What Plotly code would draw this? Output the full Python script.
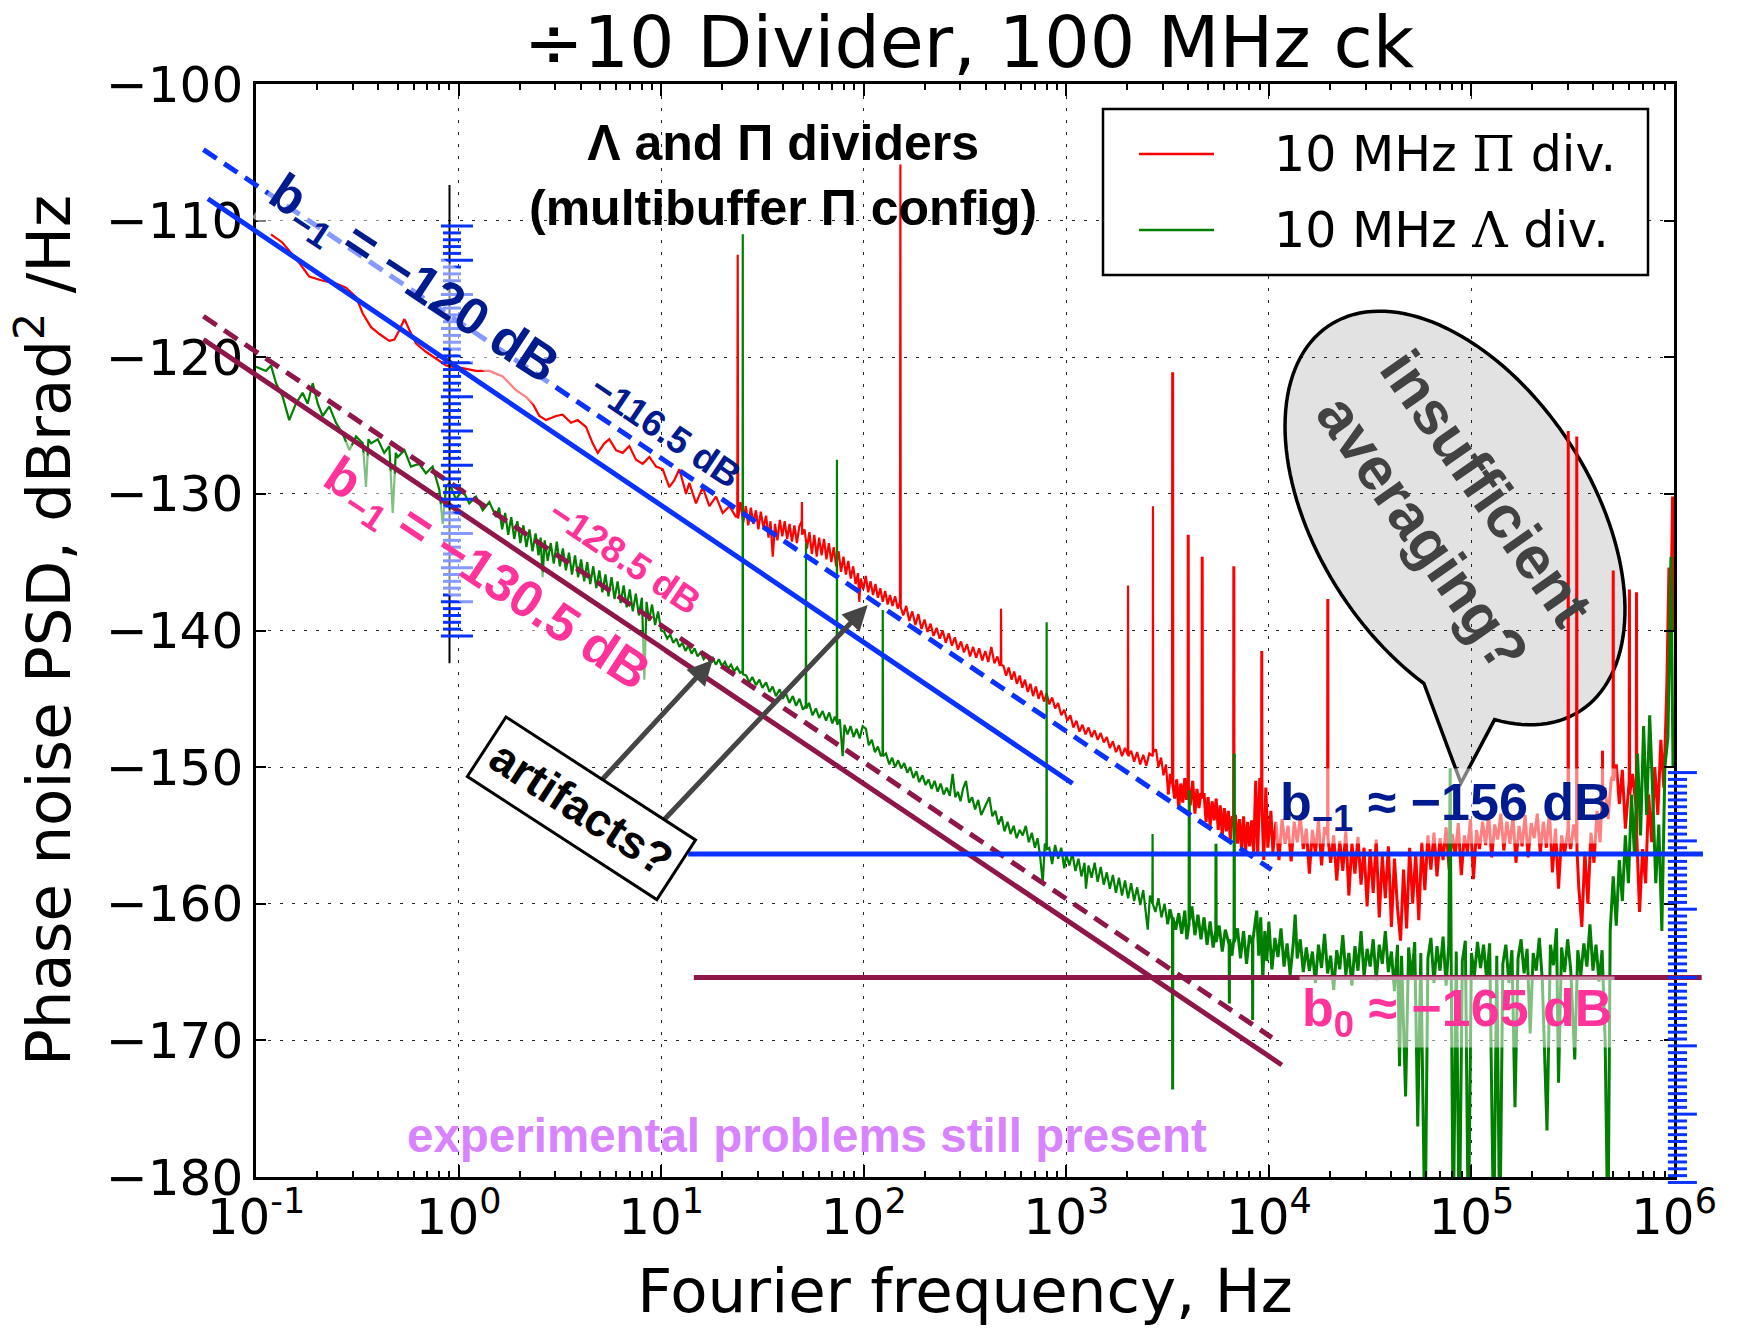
import numpy as np
import plotly.graph_objects as go

# ---------------- figure geometry (pixels) ----------------
W, H = 1743, 1331
PLOT_L, PLOT_R, PLOT_T, PLOT_B = 256, 1674, 84, 1177
X_LOG_RANGE = [-1, 6]          # log10(Hz)
Y_RANGE = [-180, -100]         # dB

# ---------------- axis ticks ----------------
x_tick_exponents = [-1, 0, 1, 2, 3, 4, 5, 6]
x_tick_labels = ["10<sup>-1</sup>", "10<sup>0</sup>", "10<sup>1</sup>", "10<sup>2</sup>",
                 "10<sup>3</sup>", "10<sup>4</sup>", "10<sup>5</sup>", "10<sup>6</sup>"]
y_tick_values = [-180, -170, -160, -150, -140, -130, -120, -110, -100]

# ---------------- measured spectra: (log10 f [Hz], PSD [dB]) ----------------
red_pi_div = [
    (-0.926, -111.0), (-0.87, -111.6), (-0.836, -112.2), (-0.786, -113.1), (-0.737, -114.1),
    (-0.671, -114.4), (-0.605, -114.6), (-0.556, -114.9), (-0.506, -115.6), (-0.473, -116.8),
    (-0.432, -117.8), (-0.391, -118.3), (-0.342, -118.8), (-0.317, -118.7), (-0.292, -118.0),
    (-0.267, -117.2), (-0.243, -118.0), (-0.21, -119.0), (-0.161, -119.6), (-0.111, -120.1),
    (-0.062, -120.6), (-0.029, -120.7), (0.02, -120.8), (0.086, -121.0), (0.152, -121.0),
    (0.218, -121.4), (0.283, -122.4), (0.333, -122.9), (0.366, -123.4), (0.399, -124.3),
    (0.432, -124.6), (0.481, -124.3), (0.514, -124.2), (0.555, -124.8), (0.588, -124.6),
    (0.629, -125.1), (0.662, -126.3), (0.687, -127.0), (0.72, -126.3), (0.744, -126.0),
    (0.777, -126.8), (0.81, -127.0), (0.843, -126.5), (0.876, -127.5), (0.909, -127.8),
    (0.942, -127.3), (0.975, -128.0), (1.008, -128.2), (1.04, -129.5), (1.065, -129.0),
    (1.09, -128.2), (1.123, -130.0), (1.139, -129.2), (1.172, -130.7), (1.205, -129.5),
    (1.238, -130.9), (1.271, -130.2), (1.304, -131.4), (1.337, -130.9), (1.37, -131.7),
    (1.376, -131.5), (1.378, -112.5), (1.380, -131.8),
    (1.392, -130.6), (1.405, -132.1), (1.418, -130.9), (1.43, -132.3), (1.443, -131.0),
    (1.455, -132.2), (1.468, -131.2), (1.48, -132.6), (1.492, -131.3), (1.505, -132.5),
    (1.518, -131.6), (1.53, -133.2), (1.54, -132.0), (1.551, -134.6), (1.562, -132.2),
    (1.574, -133.4), (1.586, -131.9), (1.598, -133.1), (1.61, -132.0), (1.622, -133.3),
    (1.634, -132.2), (1.646, -133.5), (1.658, -132.3), (1.670, -133.6), (1.682, -132.4),
    (1.694, -132.0), (1.695, -130.6), (1.696, -133.0),
    (1.708, -132.6), (1.72, -134.0), (1.732, -132.8), (1.744, -134.4), (1.756, -133.0),
    (1.768, -134.6), (1.78, -133.2), (1.792, -134.5), (1.804, -133.3), (1.816, -134.8),
    (1.828, -133.6), (1.84, -135.0), (1.852, -133.9), (1.864, -135.3), (1.876, -134.2),
    (1.888, -135.7), (1.90, -134.6), (1.912, -135.9), (1.924, -134.9), (1.936, -136.2),
    (1.948, -135.3), (1.96, -136.6), (1.972, -135.8), (1.978, -137.9), (1.986, -136.2),
    (1.998, -137.0), (2.01, -136.0), (2.022, -137.2), (2.034, -136.4), (2.046, -137.4),
    (2.058, -136.6), (2.07, -137.6), (2.082, -136.9), (2.094, -137.9), (2.106, -137.1),
    (2.118, -138.1), (2.13, -137.4), (2.142, -138.2), (2.155, -137.5), (2.168, -138.4),
    (2.179, -137.9), (2.181, -105.9), (2.183, -138.3),
    (2.195, -138.9), (2.21, -138.2), (2.225, -139.3), (2.24, -138.6), (2.255, -139.6),
    (2.27, -138.8), (2.285, -139.9), (2.30, -139.2), (2.315, -140.1), (2.33, -139.5),
    (2.345, -140.4), (2.36, -139.8), (2.375, -140.6), (2.39, -140.0), (2.405, -140.9),
    (2.42, -140.2), (2.435, -141.1), (2.45, -140.5), (2.465, -141.4), (2.48, -140.8),
    (2.495, -141.6), (2.51, -141.0), (2.525, -141.9), (2.54, -141.2), (2.555, -142.0),
    (2.57, -141.3), (2.585, -142.2), (2.60, -141.5), (2.615, -142.3), (2.63, -141.2),
    (2.645, -142.4), (2.66, -141.9), (2.672, -142.6),
    (2.677, -142.3), (2.678, -138.4), (2.679, -142.5),
    (2.69, -142.6), (2.703, -143.3), (2.716, -142.7), (2.73, -143.6), (2.743, -143.0),
    (2.756, -143.9), (2.77, -143.3), (2.783, -144.2), (2.796, -143.6), (2.81, -144.5),
    (2.823, -143.9), (2.836, -144.8), (2.85, -144.1), (2.863, -145.0), (2.876, -144.4),
    (2.89, -145.2), (2.903, -144.6), (2.916, -145.4), (2.93, -144.9), (2.945, -145.7),
    (2.96, -145.3), (2.975, -146.2), (2.99, -145.8), (3.005, -146.6), (3.02, -146.2),
    (3.035, -147.1), (3.05, -146.6), (3.065, -147.4), (3.08, -146.9), (3.095, -147.6),
    (3.11, -147.1), (3.125, -147.8), (3.14, -147.3), (3.155, -148.0), (3.17, -147.5),
    (3.185, -148.2), (3.20, -147.8), (3.215, -148.6), (3.23, -148.1), (3.245, -148.9),
    (3.26, -148.4), (3.275, -149.2), (3.29, -148.6),
    (3.304, -149.1), (3.305, -136.7), (3.306, -149.2),
    (3.32, -148.8), (3.335, -149.6), (3.35, -148.9), (3.365, -149.8), (3.38, -149.1),
    (3.395, -149.9), (3.41, -149.0),
    (3.427, -149.2), (3.428, -130.9), (3.429, -148.9),
    (3.443, -148.7), (3.455, -150.0), (3.468, -149.3), (3.48, -150.6), (3.492, -149.8),
    (3.503, -152.0), (3.514, -150.5),
    (3.524, -151.2), (3.525, -121.1), (3.526, -151.3),
    (3.535, -152.3), (3.545, -150.9), (3.555, -153.0), (3.565, -151.2), (3.575, -152.6),
    (3.585, -150.8), (3.593, -152.4),
    (3.601, -151.3), (3.602, -133.0), (3.603, -151.4),
    (3.612, -152.8), (3.624, -151.0), (3.635, -153.4), (3.645, -151.6), (3.655, -153.0),
    (3.663, -152.0),
    (3.670, -152.0), (3.671, -134.6), (3.672, -152.3),
    (3.68, -151.9), (3.69, -154.0), (3.70, -152.2), (3.71, -154.3), (3.72, -152.5),
    (3.73, -153.9), (3.74, -152.3), (3.75, -154.6), (3.76, -152.8), (3.77, -155.0),
    (3.78, -153.0), (3.79, -154.7), (3.80, -153.2), (3.81, -155.3), (3.819, -153.6),
    (3.826, -153.8), (3.827, -135.3), (3.828, -154.0),
    (3.835, -153.5), (3.845, -155.6), (3.855, -153.8), (3.865, -156.0), (3.875, -153.6),
    (3.885, -156.2), (3.895, -154.0), (3.905, -155.8), (3.915, -153.9), (3.925, -156.3),
    (3.935, -151.0), (3.945, -156.5), (3.955, -150.8),
    (3.964, -153.0), (3.965, -141.5), (3.966, -153.2),
    (3.975, -156.8), (3.985, -151.5), (3.995, -155.9), (4.01, -153.2), (4.02, -156.2),
    (4.035, -154.0), (4.05, -156.8), (4.065, -153.8), (4.08, -155.6), (4.095, -154.3),
    (4.11, -156.9), (4.125, -154.0), (4.14, -155.5), (4.155, -153.6), (4.17, -156.0),
    (4.185, -154.5), (4.20, -157.8), (4.215, -154.6), (4.23, -156.3), (4.245, -153.9),
    (4.26, -157.2), (4.275, -154.4),
    (4.290, -155.0), (4.291, -137.7), (4.292, -155.2),
    (4.305, -157.0), (4.32, -155.0), (4.335, -158.3), (4.35, -155.4), (4.365, -157.6),
    (4.38, -154.7), (4.395, -159.4), (4.41, -155.6), (4.425, -157.8), (4.44, -155.1),
    (4.455, -158.6), (4.47, -155.9), (4.485, -160.2), (4.50, -156.0), (4.515, -159.2),
    (4.53, -155.3), (4.545, -161.0), (4.56, -156.5), (4.575, -159.6), (4.59, -155.8),
    (4.605, -161.7), (4.62, -156.7), (4.635, -160.3), (4.65, -162.7), (4.665, -157.5),
    (4.68, -161.8), (4.695, -155.9), (4.71, -160.0), (4.725, -156.3), (4.74, -161.2),
    (4.755, -155.5), (4.77, -159.0), (4.785, -155.0), (4.80, -157.5), (4.815, -154.8),
    (4.83, -158.0), (4.845, -155.2), (4.86, -156.8), (4.875, -154.4), (4.89, -157.5),
    (4.905, -154.9), (4.92, -156.4), (4.935, -154.1), (4.95, -157.9), (4.965, -155.0),
    (4.98, -156.2), (4.995, -153.8), (5.01, -158.2), (5.025, -154.6), (5.04, -156.0),
    (5.055, -154.0), (5.07, -155.7), (5.085, -153.5), (5.10, -156.6), (5.115, -154.2),
    (5.13, -155.3), (5.145, -153.4), (5.16, -156.1), (5.175, -154.0), (5.19, -155.6),
    (5.205, -153.6), (5.22, -157.0), (5.235, -154.3), (5.25, -155.8), (5.265, -153.5),
    (5.28, -156.6), (5.295, -154.1), (5.31, -155.2), (5.325, -153.4), (5.34, -156.3),
    (5.355, -154.0), (5.37, -155.9), (5.385, -153.2), (5.40, -157.7), (5.415, -154.5),
    (5.43, -158.9), (5.445, -155.0), (5.46, -156.3),
    (5.477, -154.5), (5.478, -125.4), (5.479, -155.0),
    (5.49, -156.0), (5.505, -154.2),
    (5.519, -155.5), (5.52, -125.8), (5.521, -156.0),
    (5.53, -158.8), (5.545, -161.7), (5.56, -156.2), (5.575, -160.0), (5.59, -154.8),
    (5.605, -157.0), (5.62, -153.2), (5.635, -155.5),
    (5.646, -152.0), (5.647, -148.8), (5.648, -152.3),
    (5.66, -151.5), (5.675, -153.8), (5.69, -150.9),
    (5.699, -150.6), (5.70, -135.6), (5.701, -151.0),
    (5.715, -149.8), (5.73, -152.7), (5.745, -150.2), (5.76, -154.5),
    (5.779, -151.0), (5.78, -137.0), (5.781, -152.0),
    (5.795, -150.5),
    (5.814, -153.0), (5.815, -137.2), (5.816, -155.0),
    (5.83, -160.6), (5.845, -156.0), (5.86, -158.5), (5.875, -152.0), (5.89, -155.5),
    (5.905, -150.0), (5.92, -153.5), (5.935, -148.0), (5.95, -151.5), (5.965, -143.8),
    (5.975, -135.4), (5.985, -139.0), (5.993, -130.2), (5.998, -140.0),
]

green_lambda_div = [
    (-1.0, -120.7), (-0.951, -121.0), (-0.926, -120.6), (-0.901, -121.9), (-0.868, -122.9),
    (-0.836, -124.6), (-0.803, -123.4), (-0.77, -122.6), (-0.745, -123.4), (-0.72, -121.9),
    (-0.695, -123.4), (-0.671, -124.3), (-0.638, -123.6), (-0.605, -124.8), (-0.572, -125.6),
    (-0.539, -126.8), (-0.506, -125.8), (-0.473, -126.3), (-0.457, -129.5), (-0.445, -126.0),
    (-0.432, -126.3), (-0.399, -126.0), (-0.367, -127.0), (-0.342, -126.5), (-0.325, -131.4),
    (-0.31, -127.0), (-0.3, -127.3), (-0.267, -126.8), (-0.235, -128.0), (-0.194, -127.8),
    (-0.161, -128.5), (-0.128, -128.0), (-0.095, -129.7), (-0.078, -132.2), (-0.062, -129.5),
    (-0.045, -129.2), (-0.013, -130.4), (0.02, -129.7), (0.053, -130.7), (0.086, -130.2),
    (0.119, -131.2), (0.152, -130.6), (0.185, -131.7),
    (0.20, -131.0), (0.215, -132.6), (0.23, -131.4), (0.245, -133.0), (0.26, -131.7),
    (0.275, -133.3), (0.29, -132.0), (0.305, -133.6), (0.32, -132.3), (0.335, -133.9),
    (0.35, -132.6), (0.365, -134.2), (0.38, -132.9), (0.395, -134.5), (0.405, -133.2),
    (0.415, -136.1), (0.425, -133.4), (0.44, -134.9), (0.455, -133.6), (0.47, -135.1),
    (0.485, -133.5), (0.50, -135.3), (0.515, -134.0), (0.53, -135.6), (0.545, -134.3),
    (0.56, -135.9), (0.575, -134.5), (0.59, -136.1), (0.605, -134.8), (0.62, -136.4),
    (0.635, -135.0), (0.65, -136.6), (0.665, -135.3), (0.68, -136.9), (0.695, -135.6),
    (0.71, -137.2), (0.725, -135.9), (0.74, -137.5), (0.755, -136.1), (0.77, -137.7),
    (0.785, -136.4), (0.80, -138.0), (0.815, -136.7), (0.83, -138.3), (0.845, -137.0),
    (0.86, -138.6), (0.875, -137.3), (0.89, -138.9), (0.905, -137.6), (0.917, -143.6),
    (0.928, -137.9), (0.94, -139.3), (0.955, -138.1), (0.97, -139.6), (0.985, -138.6),
    (1.0, -140.0), (1.015, -140.1), (1.03, -140.6), (1.045, -140.3), (1.06, -140.9),
    (1.075, -140.6), (1.09, -141.2), (1.105, -140.9), (1.12, -141.5), (1.135, -141.1),
    (1.15, -141.7), (1.165, -141.3), (1.18, -141.9), (1.195, -141.6), (1.21, -142.1),
    (1.225, -141.8), (1.24, -142.3), (1.255, -142.0), (1.27, -142.5), (1.285, -142.1),
    (1.30, -142.6), (1.315, -142.3), (1.33, -142.8), (1.345, -142.5), (1.36, -143.0),
    (1.375, -142.7), (1.39, -143.1),
    (1.402, -143.0), (1.403, -111.0), (1.404, -143.2),
    (1.42, -143.3), (1.435, -143.8), (1.45, -143.4), (1.468, -144.0), (1.485, -143.6),
    (1.50, -144.2), (1.518, -143.8), (1.535, -144.5), (1.55, -144.1), (1.567, -144.8),
    (1.585, -144.3), (1.60, -145.0), (1.616, -144.6), (1.633, -145.3), (1.65, -144.8),
    (1.666, -145.5), (1.683, -145.0), (1.70, -145.8),
    (1.714, -145.5), (1.715, -133.6), (1.716, -145.7),
    (1.73, -145.3), (1.747, -146.2), (1.764, -145.7), (1.78, -146.4), (1.797, -145.9),
    (1.814, -146.6), (1.83, -146.0), (1.845, -146.8), (1.858, -146.3),
    (1.867, -146.7), (1.868, -127.5), (1.869, -146.9),
    (1.882, -146.5), (1.896, -149.2), (1.905, -146.9), (1.92, -147.6), (1.935, -147.0),
    (1.95, -147.8), (1.965, -147.2), (1.98, -147.9), (1.995, -147.0), (2.011, -147.2),
    (2.025, -148.4), (2.04, -148.0), (2.055, -148.9), (2.07, -148.5), (2.085, -149.2),
    (2.093, -149.0), (2.094, -138.5), (2.095, -149.2),
    (2.11, -149.0), (2.126, -149.8), (2.14, -149.3), (2.155, -150.0), (2.17, -149.5),
    (2.185, -150.1), (2.20, -149.7), (2.215, -150.4), (2.23, -150.0), (2.245, -150.8),
    (2.26, -150.3), (2.274, -151.1), (2.29, -150.6), (2.305, -151.3), (2.32, -150.9),
    (2.335, -151.6), (2.35, -151.0), (2.365, -151.8), (2.38, -151.2), (2.395, -152.0),
    (2.41, -151.5), (2.425, -152.1), (2.439, -150.5), (2.452, -152.2), (2.465, -151.8),
    (2.478, -152.5), (2.49, -151.6), (2.505, -151.0), (2.52, -152.6), (2.535, -152.2),
    (2.55, -153.1), (2.565, -152.4), (2.58, -153.5), (2.595, -153.0), (2.61, -152.6),
    (2.62, -152.2), (2.635, -153.6), (2.65, -153.2), (2.665, -154.2), (2.68, -153.6),
    (2.695, -154.7), (2.71, -154.0), (2.725, -154.9), (2.74, -154.3), (2.755, -155.2),
    (2.77, -154.6), (2.785, -155.0), (2.80, -154.3), (2.815, -155.5), (2.83, -154.8),
    (2.845, -155.9), (2.858, -155.2), (2.87, -156.4), (2.884, -158.5), (2.894, -155.6),
    (2.902, -155.8), (2.903, -139.4), (2.904, -156.0),
    (2.916, -155.9), (2.93, -157.1), (2.945, -155.7), (2.96, -156.7), (2.975, -155.9),
    (2.99, -157.4), (3.0, -156.4), (3.015, -157.2), (3.03, -156.3), (3.045, -157.6),
    (3.06, -156.7), (3.075, -158.0), (3.09, -157.0), (3.097, -158.9), (3.11, -157.2),
    (3.125, -158.1), (3.14, -157.0), (3.155, -158.4), (3.17, -157.3), (3.185, -158.6),
    (3.20, -157.7), (3.215, -158.9), (3.23, -157.9), (3.245, -159.2), (3.26, -158.1),
    (3.275, -159.4), (3.29, -158.3), (3.305, -159.6), (3.32, -158.5), (3.335, -159.8),
    (3.35, -158.8), (3.365, -160.1), (3.38, -159.0), (3.39, -160.4), (3.402, -161.9),
    (3.413, -159.4),
    (3.425, -160.0), (3.426, -154.9), (3.427, -160.0),
    (3.44, -160.6), (3.455, -159.6), (3.47, -161.0), (3.485, -160.0), (3.50, -161.5),
    (3.512, -160.4),
    (3.524, -161.2), (3.525, -173.6), (3.526, -161.0),
    (3.54, -161.9), (3.555, -160.7), (3.57, -162.2), (3.585, -160.5), (3.595, -162.6),
    (3.606, -161.5), (3.607, -151.7), (3.608, -161.2),
    (3.62, -160.2), (3.635, -162.3), (3.65, -160.8), (3.665, -162.6), (3.68, -161.0),
    (3.695, -163.0), (3.71, -161.3), (3.725, -163.2),
    (3.738, -162.0), (3.739, -155.6), (3.740, -162.8),
    (3.755, -161.6), (3.77, -163.5), (3.785, -161.9),
    (3.804, -163.0), (3.805, -167.3), (3.806, -162.6),
    (3.818, -163.8),
    (3.828, -162.5), (3.829, -149.0), (3.830, -162.8),
    (3.845, -161.8), (3.86, -164.0), (3.875, -162.0), (3.89, -164.4), (3.905, -162.3),
    (3.919, -163.0), (3.920, -168.5), (3.921, -162.7),
    (3.94, -160.5), (3.95, -163.8), (3.96, -161.0), (3.97, -165.5), (3.98, -162.0),
    (3.99, -164.2), (4.00, -161.3), (4.015, -164.8), (4.03, -162.5), (4.045, -163.9),
    (4.06, -161.8), (4.075, -164.6), (4.09, -162.9), (4.105, -165.2), (4.12, -163.0),
    (4.13, -160.8), (4.14, -164.0), (4.155, -162.6), (4.17, -165.0), (4.185, -163.2),
    (4.20, -164.9), (4.215, -163.5), (4.23, -165.8), (4.245, -163.0), (4.26, -164.7),
    (4.275, -162.2), (4.29, -165.1), (4.305, -163.8), (4.32, -166.3), (4.335, -163.4),
    (4.35, -164.8), (4.365, -162.3), (4.38, -165.2), (4.395, -163.6), (4.41, -166.0),
    (4.425, -163.1), (4.44, -164.9), (4.455, -162.0), (4.47, -165.3), (4.485, -163.3),
    (4.50, -164.6), (4.515, -162.6), (4.53, -165.6), (4.545, -163.0), (4.56, -164.4),
    (4.575, -162.0), (4.59, -165.0), (4.605, -163.5), (4.62, -166.4), (4.635, -163.0),
    (4.645, -171.9), (4.655, -163.8), (4.675, -174.1), (4.69, -163.2), (4.705, -165.5),
    (4.72, -162.8), (4.735, -176.3), (4.75, -163.6), (4.771, -185.0), (4.785, -164.0),
    (4.80, -162.5), (4.815, -165.8), (4.83, -163.1), (4.845, -164.9), (4.86, -162.4),
    (4.875, -166.0), (4.888, -163.0), (4.895, -150.1), (4.90, -164.0), (4.91, -185.0),
    (4.925, -163.5), (4.94, -185.0), (4.955, -164.2), (4.97, -162.7), (4.985, -185.0),
    (5.00, -163.6), (5.015, -165.2), (5.03, -162.8), (5.045, -164.7), (5.06, -163.0),
    (5.075, -165.5), (5.09, -162.9), (5.11, -185.0), (5.125, -163.8), (5.14, -185.0),
    (5.155, -164.4), (5.17, -163.0), (5.185, -165.8), (5.20, -163.4), (5.215, -174.9),
    (5.23, -164.0), (5.245, -162.6), (5.26, -165.1), (5.275, -163.3), (5.29, -169.5),
    (5.305, -163.6), (5.32, -164.9), (5.335, -162.5), (5.35, -165.6), (5.373, -176.6),
    (5.39, -163.0), (5.405, -164.5), (5.42, -161.8), (5.43, -173.1), (5.445, -163.2),
    (5.46, -165.0), (5.475, -162.6), (5.49, -164.8), (5.51, -171.4), (5.525, -163.4),
    (5.54, -165.2), (5.555, -162.9), (5.57, -164.6), (5.585, -161.5), (5.60, -164.9),
    (5.615, -163.0), (5.63, -165.7), (5.645, -163.4), (5.66, -170.0), (5.674, -185.0),
    (5.685, -162.0), (5.70, -158.0), (5.715, -161.6), (5.73, -156.8), (5.745, -159.8),
    (5.76, -155.0), (5.775, -158.5), (5.79, -152.0), (5.805, -156.5), (5.82, -149.0),
    (5.835, -155.0), (5.85, -147.0), (5.865, -153.5), (5.88, -146.2), (5.895, -152.0),
    (5.91, -158.5), (5.925, -154.2), (5.94, -162.0), (5.955, -150.0), (5.97, -147.8),
    (5.985, -134.6), (5.995, -150.0),
]

# ---------------- noise-model reference lines (endpoints: Hz, dB) ----------------
blue_flicker_fit_f = [0.0579, 1074.0]
blue_flicker_fit_db = [-108.4, -151.2]
blue_flicker_bound_f = [0.0550, 10300.0]
blue_flicker_bound_db = [-104.8, -157.5]
maroon_flicker_bound_f = [0.0550, 10350.0]
maroon_flicker_bound_db = [-117.0, -169.8]
maroon_flicker_fit_f = [0.0550, 11590.0]
maroon_flicker_fit_db = [-118.7, -171.8]
blue_floor_f = [13.6, 1.39e6]
blue_floor_db = [-156.35, -156.35]
maroon_floor_f = [14.5, 1.37e6]
maroon_floor_db = [-165.4, -165.4]

# dB rulers (tick spacing 0.5 dB)
left_ruler = dict(top=-110.4, bottom=-140.4, step=0.5, long_every=5,
                  short=(0.838, 1.028), long=(0.818, 1.178),
                  stem_f=0.902, stem_top=-107.4, stem_bottom=-142.4)
right_ruler = dict(top=-150.4, bottom=-180.4, step=0.5, long_every=10,
                   short=(9.33e5, 1.159e6), long=(9.33e5, 1.297e6))

# ---------------- colours / fonts ----------------
RED, GREEN = "#ff0000", "#007f00"
BLUE, MAROON = "#0a32ff", "#8e1649"
NAVY, PINK, VIOLET = "#001b8e", "#ff3399", "#d883ff"
DV = "DejaVu Sans"
BOLD = "Liberation Sans, Arial, Helvetica, sans-serif"
DENSE_FROM = 3.5   # log10 f above which the spectra are dense noise bands


def P(x, y):
    return x / W, 1 - y / H


fig = go.Figure()

# measured spectra on the main (clipped) axes
for pts, col, name in [(red_pi_div, RED, "10 MHz \u03a0 div."),
                       (green_lambda_div, GREEN, "10 MHz \u039b div.")]:
    lf = np.array([p[0] for p in pts])
    db = np.array([p[1] for p in pts])
    split = int(np.searchsorted(lf, DENSE_FROM))
    for sl, wid in [(slice(0, split + 1), 2.2), (slice(split, None), 3.0)]:
        fig.add_trace(go.Scatter(x=10 ** lf[sl], y=db[sl], mode="lines", name=name,
                                 legendgroup=name, line=dict(color=col, width=wid),
                                 xaxis="x", yaxis="y", showlegend=False, hoverinfo="skip"))

# reference lines on the unclipped overlay axes
for f, db, col, dash in [
    (blue_flicker_fit_f, blue_flicker_fit_db, BLUE, "solid"),
    (blue_flicker_bound_f, blue_flicker_bound_db, BLUE, "16px,9px"),
    (maroon_flicker_bound_f, maroon_flicker_bound_db, MAROON, "16px,9px"),
    (maroon_flicker_fit_f, maroon_flicker_fit_db, MAROON, "solid"),
    (blue_floor_f, blue_floor_db, BLUE, "solid"),
    (maroon_floor_f, maroon_floor_db, MAROON, "solid"),
]:
    fig.add_trace(go.Scatter(x=f, y=db, mode="lines", xaxis="x2", yaxis="y2",
                             line=dict(color=col, width=5, dash=dash),
                             showlegend=False, hoverinfo="skip"))


def ruler(spec):
    xs, ys = [], []
    n = int(round((spec["top"] - spec["bottom"]) / spec["step"]))
    for i in range(n + 1):
        v = spec["top"] - i * spec["step"]
        x0, x1 = spec["long"] if i % spec["long_every"] == 0 else spec["short"]
        xs += [x0, x1, None]
        ys += [v, v, None]
    return xs, ys


fig.add_trace(go.Scatter(x=[left_ruler["stem_f"]] * 2,
                         y=[left_ruler["stem_top"], left_ruler["stem_bottom"]],
                         mode="lines", line=dict(color="black", width=2),
                         xaxis="x2", yaxis="y2", showlegend=False, hoverinfo="skip"))
for spec in (left_ruler, right_ruler):
    rx, ry = ruler(spec)
    fig.add_trace(go.Scatter(x=rx, y=ry, mode="lines", line=dict(color=BLUE, width=3),
                             xaxis="x2", yaxis="y2", showlegend=False, hoverinfo="skip"))

# ---------------- axes ----------------
dec_px = (PLOT_R - PLOT_L) / (X_LOG_RANGE[1] - X_LOG_RANGE[0])
db_px = (PLOT_B - PLOT_T) / (Y_RANGE[1] - Y_RANGE[0])
x2_range = [X_LOG_RANGE[0] - PLOT_L / dec_px, X_LOG_RANGE[1] + (W - PLOT_R) / dec_px]
y2_range = [Y_RANGE[0] - (H - PLOT_B) / db_px, Y_RANGE[1] + PLOT_T / db_px]

minor_vals = [m * 10.0 ** e for e in range(-1, 6) for m in range(2, 10)]

axis_common = dict(showline=True, linecolor="black", linewidth=2.5, mirror="ticks",
                   ticks="inside", tickcolor="black", tickwidth=2,
                   showgrid=True, gridcolor="rgba(0,0,0,0.85)", gridwidth=1.4,
                   griddash="3px,9px", zeroline=False, automargin=False,
                   tickfont=dict(family=DV, size=50, color="black"))

fig.update_layout(
    width=W, height=H, margin=dict(l=0, r=0, t=0, b=0),
    paper_bgcolor="white", plot_bgcolor="rgba(0,0,0,0)", showlegend=False,
    title=dict(text="\u00f710 Divider, 100 MHz ck", x=969 / W, y=P(0, 42)[1],
               xref="paper", yref="paper", xanchor="center", yanchor="middle",
               font=dict(family=DV, size=71.5, color="black")),
    xaxis=dict(type="log", range=X_LOG_RANGE, domain=[PLOT_L / W, PLOT_R / W], anchor="y",
               tickmode="array", tickvals=[10.0 ** e for e in x_tick_exponents],
               ticktext=x_tick_labels, ticklen=12, ticklabelstandoff=-6,
               minor=dict(tickvals=minor_vals, ticks="inside", ticklen=6, tickwidth=1.5,
                          tickcolor="black", showgrid=False),
               title=dict(text="Fourier frequency, Hz", standoff=25,
                          font=dict(family=DV, size=61, color="black")),
               **axis_common),
    yaxis=dict(range=Y_RANGE, domain=[1 - PLOT_B / H, 1 - PLOT_T / H], anchor="x",
               tickmode="array", tickvals=y_tick_values, ticklen=10, ticklabelstandoff=0,
               title=dict(text="Phase noise PSD, dBrad<sup>2</sup> /Hz", standoff=16,
                          font=dict(family=DV, size=61, color="black")),
               **axis_common),
    xaxis2=dict(type="log", range=x2_range, domain=[0, 1], anchor="y2", visible=False,
                fixedrange=True),
    yaxis2=dict(range=y2_range, domain=[0, 1], anchor="x2", visible=False, fixedrange=True),
)

# ---------------- speech bubble ----------------
bub_c, bub_a, bub_b, bub_th = (1455, 518), 230, 137, np.deg2rad(57)
bub_tip = (1461, 783)
t = np.deg2rad(np.linspace(58, 394, 140))
ux, uy = np.cos(bub_th), np.sin(bub_th)
vx, vy = -np.sin(bub_th), np.cos(bub_th)
bx = bub_c[0] + bub_a * np.cos(t) * ux + bub_b * np.sin(t) * vx
by = bub_c[1] + bub_a * np.cos(t) * uy + bub_b * np.sin(t) * vy
pts = [P(x, y) for x, y in zip(bx, by)] + [P(*bub_tip)]
path = "M " + " L ".join(f"{x:.5f},{y:.5f}" for x, y in pts) + " Z"
fig.add_shape(type="path", path=path, xref="paper", yref="paper", layer="below",
              fillcolor="#e2e2e2", line=dict(color="black", width=3.5))

# ---------------- legend (drawn) ----------------
lx0, ly0 = P(1103, 109)
lx1, ly1 = P(1648, 275)
fig.add_shape(type="rect", x0=lx0, y0=ly1, x1=lx1, y1=ly0, xref="paper", yref="paper",
              fillcolor="white", line=dict(color="black", width=2.5), layer="above")
for yy, col, sym in [(154, RED, "\u03a0"), (230, GREEN, "\u039b")]:
    a0, b0 = P(1139, yy)
    a1, _ = P(1214, yy)
    fig.add_shape(type="line", x0=a0, x1=a1, y0=b0, y1=b0, xref="paper", yref="paper",
                  line=dict(color=col, width=2.5), layer="above")
    tx, ty = P(1272, yy)
    fig.add_annotation(x=tx, y=ty, xref="paper", yref="paper", showarrow=False,
                       xanchor="left", yanchor="middle",
                       text=f'10 MHz <span style="font-family:DejaVu Serif">{sym}</span> div.',
                       font=dict(family=DV, size=49, color="black"))


# ---------------- annotations ----------------
def note(text, x, y, size, color, angle=0, bg="rgba(0,0,0,0)", family=BOLD, pad=2, **kw):
    ax, ay = P(x, y)
    fig.add_annotation(x=ax, y=ay, xref="paper", yref="paper", text=text, showarrow=False,
                       textangle=angle, xanchor="center", yanchor="middle", bgcolor=bg,
                       borderpad=pad, font=dict(family=family, size=size, color=color), **kw)


SEMI = "rgba(255,255,255,0.5)"
note("<b>\u039b and \u03a0 dividers<br>(multibuffer \u03a0 config)</b>", 783, 175, 50, "black")
note("<b>b<sub>\u22121</sub> = \u2212120 dB</b>", 412, 281, 52, NAVY, angle=33.5, bg=SEMI)
note("<b>\u2212116.5 dB</b>", 666, 431, 37, NAVY, angle=34)
note("<b>b<sub>\u22121</sub> = \u2212130.5 dB</b>", 485, 576, 52, PINK, angle=33.5, bg=SEMI)
note("<b>\u2212128.5 dB</b>", 625, 557, 37, PINK, angle=34)
note("<b>b<sub>\u22121</sub> \u2248 \u2212156 dB</b>", 1446, 806, 52, NAVY, bg=SEMI, pad=4)
note("<b>b<sub>0</sub> \u2248 \u2212165 dB</b>", 1457, 1012, 52, PINK, bg=SEMI, pad=2)
note("<b>experimental problems still present</b>", 807, 1135, 47.5, VIOLET)

# artifacts arrows (head pixel, tail pixel)
for head, tail in [((712.7, 660.0), (599.0, 783.0)), ((867.7, 605.0), (661.0, 823.0))]:
    hx, hy = P(*head)
    fig.add_annotation(x=hx, y=hy, xref="paper", yref="paper", text="", showarrow=True,
                       ax=tail[0] - head[0], ay=tail[1] - head[1], arrowhead=2, arrowsize=1,
                       arrowwidth=5, arrowcolor="#454545", standoff=0)
note("<b>artifacts?</b>", 581, 808, 46, "black", angle=33, bg="white", pad=8,
     bordercolor="black", borderwidth=3)
note("<b>insufficient<br>averaging?</b>", 1454, 511, 60, "#424242", angle=55)

fig.write_html("out.html")
